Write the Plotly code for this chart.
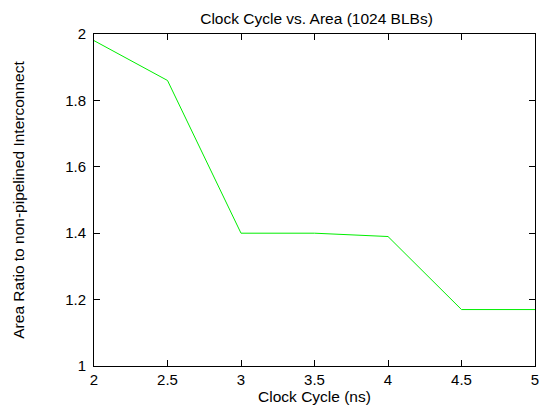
import plotly.graph_objects as go

clock_ns = [2, 2.5, 3, 3.5, 4, 4.5, 5]
area_ratio = [1.98, 1.86, 1.40, 1.40, 1.39, 1.17, 1.17]
x_ticks = [2, 2.5, 3, 3.5, 4, 4.5, 5]
x_tick_text = ["2", "2.5", "3", "3.5", "4", "4.5", "5"]
y_ticks = [1, 1.2, 1.4, 1.6, 1.8, 2]
y_tick_text = ["1", "1.2", "1.4", "1.6", "1.8", "2"]

fig = go.Figure()
fig.add_trace(go.Scatter(x=clock_ns, y=area_ratio, mode="lines",
                         line=dict(color="#00ee00", width=1), showlegend=False))

fam = "Liberation Sans, Arial, sans-serif"
tick_font = dict(family=fam, size=15, color="black")
title_font = dict(family=fam, size=15.5, color="black")
axis_common = dict(showgrid=False, zeroline=False, showline=True, linecolor="black",
                   linewidth=1, mirror="allticks", ticks="inside", ticklen=6,
                   tickcolor="black", tickfont=tick_font, ticklabeloverflow="allow")

fig.update_layout(
    width=543, height=405,
    margin=dict(l=94, r=4, t=34, b=39),
    paper_bgcolor="white", plot_bgcolor="white",
    font=tick_font,
    title=dict(text="Clock Cycle vs. Area (1024 BLBs)", x=(94 + 539) / 2 / 543, xanchor="center",
               y=1 - 19/405, yanchor="middle", font=title_font),
    xaxis=dict(range=[2, 5], tickvals=x_ticks, ticktext=x_tick_text,
               title=dict(text="Clock Cycle (ns)", standoff=0, font=title_font), **axis_common),
    yaxis=dict(range=[1, 2], tickvals=y_ticks, ticktext=y_tick_text, ticklabelstandoff=4,
               title=dict(text="Area Ratio to non-pipelined Interconnect", standoff=36, font=title_font),
               **axis_common),
)

fig.write_html("out.html")
